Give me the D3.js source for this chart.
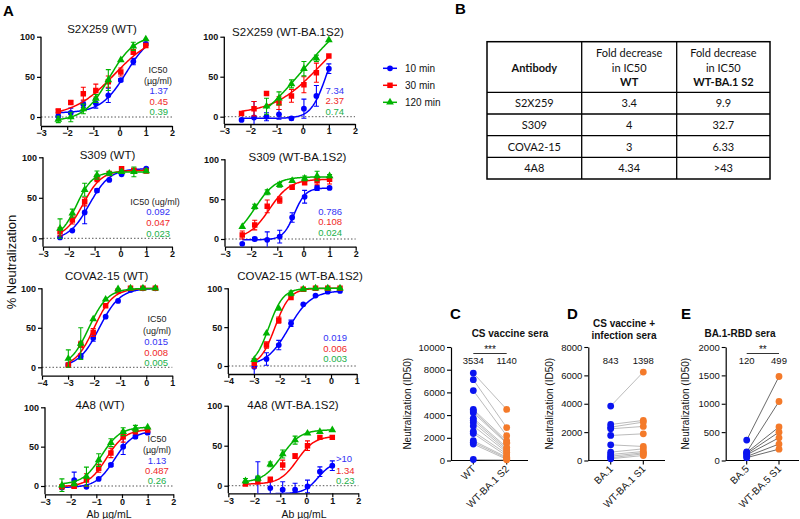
<!DOCTYPE html>
<html><head><meta charset="utf-8">
<script src="https://cdn.jsdelivr.net/npm/d3@7"></script>
<style>body{margin:0;background:#fff}text{font-family:"Liberation Sans",Arial,sans-serif}</style>
</head><body>
<svg id="c" width="800" height="519" xmlns="http://www.w3.org/2000/svg"></svg>
<script>
// ---------- DATA: panel A (x = log10 Ab µg/mL) ----------
const timeSeries = ["10 min","30 min","120 min"];
const xStd  = [-2.34,-1.863,-1.385,-0.908,-0.431,0.046,0.523,1.0];
const xCova = [-2.99,-2.513,-2.035,-1.558,-1.081,-0.604,-0.127,0.35];

const s2x259_wt_10  = [1,5,16,17,27,46,69,91];
const s2x259_wt_30  = [7.5,18,29,33,44,56,81,89];
const s2x259_wt_120 = [-3,0,10,23,46,71,88,97];
const s2x259_wt_err = [[4,6,4,6,9,2,4,2],[2,2,8,8,7,5,3,1],[4,6,6,5,13,1,5,1]];
const s2x259_wt_fit = [[5,105,0.25,0.9],[0,106,-0.2,0.55],[-5,102,-0.4,0.9]];

const s2x259_ba_10  = [-4,-1,0,3,-2,10,26,60];
const s2x259_ba_30  = [4,10,29,17,26,40,55,76];
const s2x259_ba_120 = [null,null,13,23,41,60,73,96];
const s2x259_ba_err = [[0,20,5,6,2,12,13,6],[0,9,0,8,8,10,12,0],[0,0,10,8,5,9,4,0]];
const s2x259_ba_fit = [[-2,105,0.9,1.5],[3,120,0.6,0.5],[-36.5,152.5,0,0.35]];

const s309_wt_10  = [1,9.5,32,59,72,79,83,86];
const s309_wt_30  = [8,22.6,45,74,80,86,84,83];
const s309_wt_120 = [12,31,60,78,80,82,82,83];
const s309_wt_err = [[1,1,14,2,1,1,2,1],[5,5,5,4,2,1,2,2],[12,5,8,5,2,2,6,2]];
const s309_wt_fit = [[-2,86,-1.2,1.1],[0,84,-1.45,1.2],[0,82,-1.7,1.4]];

const s309_ba_10  = [-6,0,-1,3,27,53,64,64];
const s309_ba_30  = [5,17.5,41,49,65,70.7,73,75];
const s309_ba_120 = [15.5,40.6,58.6,68,73,76,79,79];
const s309_ba_err = [[0,2,10,8,6,8,3,1],[5,6,8,4,2,2,5,6],[1,3,3,3,1,3,6,2]];
const s309_ba_fit = [[-1,64,-0.35,2],[0,75,-1.3,1.1],[0,78,-1.85,1.1]];

const cova_wt_10  = [3,14,37,64,84,98,100,100];
const cova_wt_30  = [3,29,44,78,96.6,100,100,100];
const cova_wt_120 = [11,30,61,86,99,100,100,100];
const cova_wt_err = [[2,3,4,1,1,1,1,1],[1,4,5,1,1,1,1,1],[11,20,1,1,1,1,1,1]];
const cova_wt_fit = [[0,100,-1.8,1.1],[0,100,-2.0,1.2],[0,100,-2.2,1.2]];

const cova_ba_10  = [-1,9,27,55,79.4,90.6,95.7,96.6];
const cova_ba_30  = [3.4,27,59,88,98.7,100,100,100];
const cova_ba_120 = [8,42,74,93.6,98.7,100,100,100];
const cova_ba_err = [[10,8,6,4,1,1,1,1],[6,4,4,1,1,1,1,1],[1,1,1,3,1,1,1,1]];
const cova_ba_fit = [[0,97,-1.65,1.0],[0,100,-2.18,1.5],[0,100,-2.42,1.55]];

const a4a8_wt_10  = [-2,7.6,-1,9,26.7,50,62.7,67.8];
const a4a8_wt_30  = [-1,0,7.6,22.5,42,62.7,69,71];
const a4a8_wt_120 = [1,3,12,33,55,69,73,74.6];
const a4a8_wt_err = [[1,10,1,1,2,10,2,2],[2,3,8,5,6,7,2,1],[8,3,12,8,5,5,4,1]];
const a4a8_wt_fit = [[-2,70,-0.29,1.2],[-1,72,-0.6,1.2],[2,75,-0.8,1.2]];

const a4a8_ba_10  = [null,9,-3,-5,-5,-1,17.5,25];
const a4a8_ba_30  = [2,5,8,26,37,50,60.4,60.4];
const a4a8_ba_120 = [6,9,26.7,39.6,57,65.4,67.5,69.6];
const a4a8_ba_err = [[0,21,8,10,8,8,6,6],[1,1,1,6,3,6,1,2],[3,3,3,5,5,1,1,1]];
const a4a8_ba_fit = [[-10,30,0.45,1.6],[2,62,-0.35,1.3],[4,70,-0.95,1.2]];

const panelTitles = ["S2X259 (WT)","S2X259 (WT-BA.1S2)","S309 (WT)","S309 (WT-BA.1S2)",
  "COVA2-15 (WT)","COVA2-15 (WT-BA.1S2)","4A8 (WT)","4A8 (WT-BA.1S2)"];
const ic50Values = [["1.37","0.45","0.39"],["7.34","2.37","0.74"],["0.092","0.047","0.023"],
  ["0.786","0.108","0.024"],["0.015","0.008","0.005"],["0.019","0.006","0.003"],
  ["1.13","0.487","0.26"],[">10","1.34","0.23"]];

// ---------- DATA: panel B table ----------
const tableHeader = ["Antibody","Fold decrease in IC50 WT","Fold decrease in IC50 WT-BA.1 S2"];
const tableAntibodies = ["S2X259","S309","COVA2-15","4A8"];
const tableFoldWT = ["3.4","4","3","4.34"];
const tableFoldBA = ["9.9","32.7","6.33",">43"];

// ---------- DATA: panels C, D, E (ID50) ----------
const cCats = ["WT","WT-BA.1 S2"];
const cFirst  = [7700,7120,6160,4500,4360,4210,3720,3550,3340,3050,2560,2380,1740,1600,1450,90];
const cSecond = [4500,2900,2180,1740,1600,1510,1160,1020,870,730,580,400,290,200,100,60];
const cTicks = [0,2000,4000,6000,8000,10000];
const cLabels = ["3534","1140"];
const dCats = ["BA.1","WT-BA.1 S1"];
const dFirst  = [3835,2540,2350,2235,1765,1105,590,425,305,190,120];
const dSecond = [6235,2824,2706,2400,1882,988,824,635,541,470,353];
const dTicks = [0,2000,4000,6000,8000];
const dLabels = ["843","1398"];
const eCats = ["BA.5","WT-BA.5 S1"];
const eFirst  = [360,150,140,120,100,70,50];
const eSecond = [1480,1040,590,500,400,290,200];
const eTicks = [0,500,1000,1500,2000];
const eLabels = ["120","499"];

// ---------- drawing ----------
const svg = d3.select("#c");
const COL = ["#0000FF","#FF0000","#00B300"];
const TXT = ["#3333F5","#F02828","#22B04A"];
const symTypes = [d3.symbolCircle, d3.symbolSquare, d3.symbolTriangle];
const symSizes = [26, 30, 26];

const panelsA = [
 {t:0, xs:xStd, ys:[s2x259_wt_10,s2x259_wt_30,s2x259_wt_120], err:s2x259_wt_err, fit:s2x259_wt_fit},
 {t:1, xs:xStd, ys:[s2x259_ba_10,s2x259_ba_30,s2x259_ba_120], err:s2x259_ba_err, fit:s2x259_ba_fit},
 {t:2, xs:xStd, ys:[s309_wt_10,s309_wt_30,s309_wt_120], err:s309_wt_err, fit:s309_wt_fit},
 {t:3, xs:xStd, ys:[s309_ba_10,s309_ba_30,s309_ba_120], err:s309_ba_err, fit:s309_ba_fit},
 {t:4, xs:xCova, ys:[cova_wt_10,cova_wt_30,cova_wt_120], err:cova_wt_err, fit:cova_wt_fit},
 {t:5, xs:xCova, ys:[cova_ba_10,cova_ba_30,cova_ba_120], err:cova_ba_err, fit:cova_ba_fit},
 {t:6, xs:xStd, ys:[a4a8_wt_10,a4a8_wt_30,a4a8_wt_120], err:a4a8_wt_err, fit:a4a8_wt_fit},
 {t:7, xs:xStd, ys:[a4a8_ba_10,a4a8_ba_30,a4a8_ba_120], err:a4a8_ba_err, fit:a4a8_ba_fit}
];
const layoutA = [
 {x:[41,172],   dom:[-3,2], y0:117,   y100:36.7,  ax:126,   tx:102,   ty:32.5},
 {x:[224.3,355],dom:[-3,2], y0:116.7, y100:36.7,  ax:124,   tx:288,   ty:36},
 {x:[43,172],   dom:[-3,2], y0:238.3, y100:157.3, ax:246.7, tx:107.5, ty:159},
 {x:[225,355.7],dom:[-3,2], y0:239,   y100:159.3, ax:246.7, tx:297.5, ty:161},
 {x:[42,172.3], dom:[-4,1], y0:367.3, y100:288.3, ax:375.7, tx:106.7, ty:280},
 {x:[228.3,356.7],dom:[-4,1],y0:366,  y100:288.3, ax:374,   tx:300,   ty:280},
 {x:[45,173.3], dom:[-3,2], y0:486,   y100:407.3, ax:494.3, tx:100,   ty:408.5},
 {x:[228.3,358.3],dom:[-3,2],y0:485.7,y100:405.7, ax:493.3, tx:293,   ty:409}
];
const icLayout = [
 {head:["IC50","(µg/ml)"], hx:158, hy:[73,84], vx:168, anchor:"end", vy:[94,104.5,115]},
 {head:[], vx:344, anchor:"end", vy:[93.5,104,115]},
 {head:["IC50 (ug/ml)"], hx:155, hy:[205], vx:170, anchor:"end", vy:[215,226,236.5]},
 {head:[], vx:342, anchor:"end", vy:[214.5,225,235.5]},
 {head:["IC50","(ug/ml)"], hx:157, hy:[321.5,334], vx:168, anchor:"end", vy:[345,355.5,366]},
 {head:[], vx:347, anchor:"end", vy:[341,351.5,362]},
 {head:["IC50","(µg/ml)"], hx:157, hy:[441.5,452.5], vx:157, anchor:"middle", vy:[463.5,473.5,483.5]},
 {head:[], vx:336, anchor:"start", vy:[461.5,473.5,483.5]}
];

function logistic(p, x){ return p[0] + (p[1]-p[0])/(1+Math.pow(10,(p[2]-x)*p[3])); }

panelsA.forEach((P,i)=>{
  const L = layoutA[i];
  const g = svg.append("g");
  const x = d3.scaleLinear().domain(L.dom).range(L.x);
  const y = d3.scaleLinear().domain([0,100]).range([L.y0,L.y100]);
  const yBot = y.invert(L.ax);
  const clipId = "clipA"+i;
  svg.append("clipPath").attr("id",clipId).append("rect")
    .attr("x",L.x[0]).attr("y",L.y100-15).attr("width",L.x[1]-L.x[0]+4).attr("height",L.ax-L.y100+15);
  g.append("line").attr("x1",L.x[0]).attr("x2",L.x[1]).attr("y1",y(0)).attr("y2",y(0))
    .attr("stroke","#444").attr("stroke-width",0.9).attr("stroke-dasharray","1.5,2");
  const ya = g.append("g").attr("transform",`translate(${L.x[0]},0)`)
    .call(d3.axisLeft(y).tickValues([0,50,100]).tickSize(4).tickPadding(2));
  ya.select(".domain").remove();
  g.append("line").attr("x1",L.x[0]).attr("x2",L.x[0]).attr("y1",L.y100).attr("y2",L.ax)
    .attr("stroke","#000").attr("stroke-width",1.3);
  const xa = g.append("g").attr("transform",`translate(0,${L.ax})`)
    .call(d3.axisBottom(x).tickValues(d3.range(L.dom[0],L.dom[1]+1)).tickFormat(d3.format("d")).tickSize(4).tickSizeOuter(0).tickPadding(0));
  [ya,xa].forEach(a=>{
    a.selectAll(".tick line").attr("stroke","#000").attr("stroke-width",1.2);
    a.selectAll(".tick text").attr("font-size",9).attr("font-weight","bold").attr("fill","#111")
      .style("font-family","Liberation Sans, Arial, sans-serif");
  });
  xa.select(".domain").attr("stroke","#000").attr("stroke-width",1.3);
  g.append("text").attr("x",L.tx).attr("y",L.ty).attr("text-anchor","middle")
    .attr("font-size",11.5).attr("fill","#111").text(panelTitles[P.t]);
  const plot = g.append("g").attr("clip-path",`url(#${clipId})`);
  [0,1,2].forEach(s=>{
    const ys = P.ys[s];
    const pts = P.xs.map((xv,k)=>({x:xv,y:ys[k],e:P.err[s][k]})).filter(d=>d.y!==null);
    const xmin = d3.min(pts,d=>d.x), xmax = d3.max(pts,d=>d.x);
    const fp = P.fit[s];
    const curve = d3.range(0,121).map(k=>{const xv=xmin+(xmax-xmin)*k/120; return [xv, logistic(fp,xv)];})
      .filter(d=>d[1]>=yBot-1);
    plot.append("path").datum(curve)
      .attr("d",d3.line().x(d=>x(d[0])).y(d=>y(d[1])))
      .attr("fill","none").attr("stroke",COL[s]).attr("stroke-width",1.5);
    pts.forEach(d=>{
      if(d.e>=2){
        const y1=y(d.y-d.e), y2=y(d.y+d.e), cx=x(d.x);
        plot.append("path").attr("d",`M${cx},${y1}V${y2}M${cx-2.5},${y1}H${cx+2.5}M${cx-2.5},${y2}H${cx+2.5}`)
          .attr("stroke",COL[s]).attr("stroke-width",1.1).attr("fill","none");
      }
    });
    plot.selectAll(null).data(pts).enter().append("path")
      .attr("transform",d=>`translate(${x(d.x)},${y(d.y)})`)
      .attr("d",d3.symbol().type(symTypes[s]).size(symSizes[s]))
      .attr("fill",COL[s]);
  });
  const ic = icLayout[i];
  ic.head.forEach((h,k)=>g.append("text").attr("x",ic.hx).attr("y",ic.hy[k]).attr("text-anchor","middle")
    .attr("font-size",9).attr("fill","#222").text(h));
  ic50Values[P.t].forEach((v,k)=>g.append("text").attr("x",ic.vx).attr("y",ic.vy[k]).attr("text-anchor",ic.anchor)
    .attr("font-size",9.5).attr("fill",TXT[k]).text(v));
});

svg.append("text").attr("x",3).attr("y",16).attr("font-size",15).attr("font-weight","bold").text("A");
svg.append("text").attr("x",455).attr("y",14).attr("font-size",15).attr("font-weight","bold").text("B");
svg.append("text").attr("transform","translate(16,262) rotate(-90)").attr("text-anchor","middle")
  .attr("font-size",13).attr("fill","#111").text("% Neutralization");
[[109,517.5],[304,517.5]].forEach(p=>svg.append("text").attr("x",p[0]).attr("y",p[1]).attr("text-anchor","middle")
  .attr("font-size",10.5).attr("fill","#111").text("Ab µg/mL"));

timeSeries.forEach((t,s)=>{
  const yy = 68.3 + s*17;
  svg.append("line").attr("x1",383).attr("x2",397).attr("y1",yy).attr("y2",yy).attr("stroke",COL[s]).attr("stroke-width",1.5);
  svg.append("path").attr("transform",`translate(390,${yy})`).attr("d",d3.symbol().type(symTypes[s]).size(symSizes[s])).attr("fill",COL[s]);
  svg.append("text").attr("x",405).attr("y",yy+3.5).attr("font-size",10).attr("fill","#111").text(t);
});

// ---------- table B ----------
const tb = svg.append("g");
const colX = [487,581.7,676.7,770];
const rowY = [41.7,92.3,114,135.7,157.3,179];
tb.append("rect").attr("x",colX[0]).attr("y",rowY[0]).attr("width",colX[3]-colX[0]).attr("height",rowY[5]-rowY[0])
  .attr("fill","none").attr("stroke","#000").attr("stroke-width",1.5);
colX.slice(1,3).forEach(cx=>tb.append("line").attr("x1",cx).attr("x2",cx).attr("y1",rowY[0]).attr("y2",rowY[5]).attr("stroke","#000").attr("stroke-width",1.3));
rowY.slice(1,5).forEach(ry=>tb.append("line").attr("x1",colX[0]).attr("x2",colX[3]).attr("y1",ry).attr("y2",ry).attr("stroke","#000").attr("stroke-width",1.3));
const cc = [(colX[0]+colX[1])/2,(colX[1]+colX[2])/2,(colX[2]+colX[3])/2];
const T = (x,y,s,b)=>tb.append("text").attr("x",x).attr("y",y).attr("text-anchor","middle").attr("font-size",11)
  .attr("font-weight",b?"bold":"normal").attr("fill","#111").style("font-family","Lato, 'Open Sans', sans-serif").text(s);
T(cc[0],71.5,tableHeader[0],true);
[1,2].forEach(c=>{
  const parts = tableHeader[c].split(" in IC50 ");
  T(cc[c],56.5,parts[0],false); T(cc[c],71.5,"in IC50",false); T(cc[c],86,parts[1],true);
});
tableAntibodies.forEach((a,r)=>{
  const yy=(rowY[r+1]+rowY[r+2])/2+4;
  T(cc[0],yy,a,false); T(cc[1],yy,tableFoldWT[r],false); T(cc[2],yy,tableFoldBA[r],false);
});

// ---------- panels C, D, E ----------
const yBase = 460.5, yTop = 347;
const pairLayout = [
 {letter:"C", lx:450, title:["CS vaccine sera"], tx:510, tty:[337], ax:451, cx:[473.3,506.7], end:528, yt:411,
  first:cFirst, second:cSecond, ticks:cTicks, cats:cCats, lab:cLabels, star:"***", lineCol:"#aaa"},
 {letter:"D", lx:567, title:["CS vaccine +","infection sera"], tx:624, tty:[327,339], ax:588.3, cx:[610.7,643.3], end:665, yt:553,
  first:dFirst, second:dSecond, ticks:dTicks, cats:dCats, lab:dLabels, star:null, lineCol:"#aaa"},
 {letter:"E", lx:681, title:["BA.1-RBD sera"], tx:740, tty:[337], ax:725.7, cx:[746.7,779], end:799, yt:689,
  first:eFirst, second:eSecond, ticks:eTicks, cats:eCats, lab:eLabels, star:"**", lineCol:"#444"}
];
pairLayout.forEach(P=>{
  const g = svg.append("g");
  const y = d3.scaleLinear().domain([0,d3.max(P.ticks)]).range([yBase,yTop]);
  const xc = d3.scalePoint().domain(P.cats).range(P.cx);
  g.append("text").attr("x",P.lx).attr("y",319).attr("font-size",15).attr("font-weight","bold").text(P.letter);
  P.title.forEach((t,k)=>g.append("text").attr("x",P.tx).attr("y",P.tty[k]).attr("text-anchor","middle")
    .attr("font-size",10).attr("font-weight","bold").attr("fill","#111").text(t));
  const ya = g.append("g").attr("transform",`translate(${P.ax},0)`)
    .call(d3.axisLeft(y).tickValues(P.ticks).tickFormat(d3.format("d")).tickSize(4).tickPadding(2).tickSizeOuter(0));
  ya.select(".domain").attr("stroke","#000").attr("stroke-width",1.2);
  ya.selectAll(".tick line").attr("stroke","#000").attr("stroke-width",1.1);
  ya.selectAll(".tick text").attr("font-size",9.5).attr("fill","#111").style("font-family","Liberation Sans, Arial, sans-serif");
  g.append("text").attr("transform",`translate(${P.yt},${(yBase+yTop)/2}) rotate(-90)`).attr("text-anchor","middle")
    .attr("font-size",10).attr("fill","#111").text("Neutralization (ID50)");
  g.append("line").attr("x1",P.ax).attr("x2",P.end).attr("y1",yBase).attr("y2",yBase).attr("stroke","#000").attr("stroke-width",1.2);
  P.cats.forEach(c=>{
    g.append("line").attr("x1",xc(c)).attr("x2",xc(c)).attr("y1",yBase).attr("y2",yBase+4).attr("stroke","#000").attr("stroke-width",1.1);
    g.append("text").attr("transform",`translate(${xc(c)+3},${yBase+9}) rotate(-45)`).attr("text-anchor","end")
      .attr("font-size",10).attr("fill","#111").text(c);
  });
  P.first.forEach((v,k)=>g.append("line").attr("x1",xc(P.cats[0])).attr("x2",xc(P.cats[1]))
    .attr("y1",y(v)).attr("y2",y(P.second[k])).attr("stroke",P.lineCol).attr("stroke-width",0.8));
  g.selectAll(null).data(P.first).enter().append("circle").attr("cx",xc(P.cats[0])).attr("cy",d=>y(d)).attr("r",3.4).attr("fill","#0A14F0");
  g.selectAll(null).data(P.second).enter().append("circle").attr("cx",xc(P.cats[1])).attr("cy",d=>y(d)).attr("r",3.4).attr("fill","#F47A2A");
  P.lab.forEach((l,k)=>g.append("text").attr("x",xc(P.cats[k])).attr("y",yBase-100+3.5).attr("text-anchor","middle")
    .attr("font-size",9.5).attr("fill","#111").text(l));
  if(P.star){
    g.append("line").attr("x1",xc(P.cats[0])).attr("x2",xc(P.cats[1])).attr("y1",yBase-107).attr("y2",yBase-107).attr("stroke","#000").attr("stroke-width",0.8);
    g.append("text").attr("x",(P.cx[0]+P.cx[1])/2).attr("y",yBase-108).attr("text-anchor","middle").attr("font-size",10).attr("fill","#111").text(P.star);
  }
});
</script>
</body></html>
